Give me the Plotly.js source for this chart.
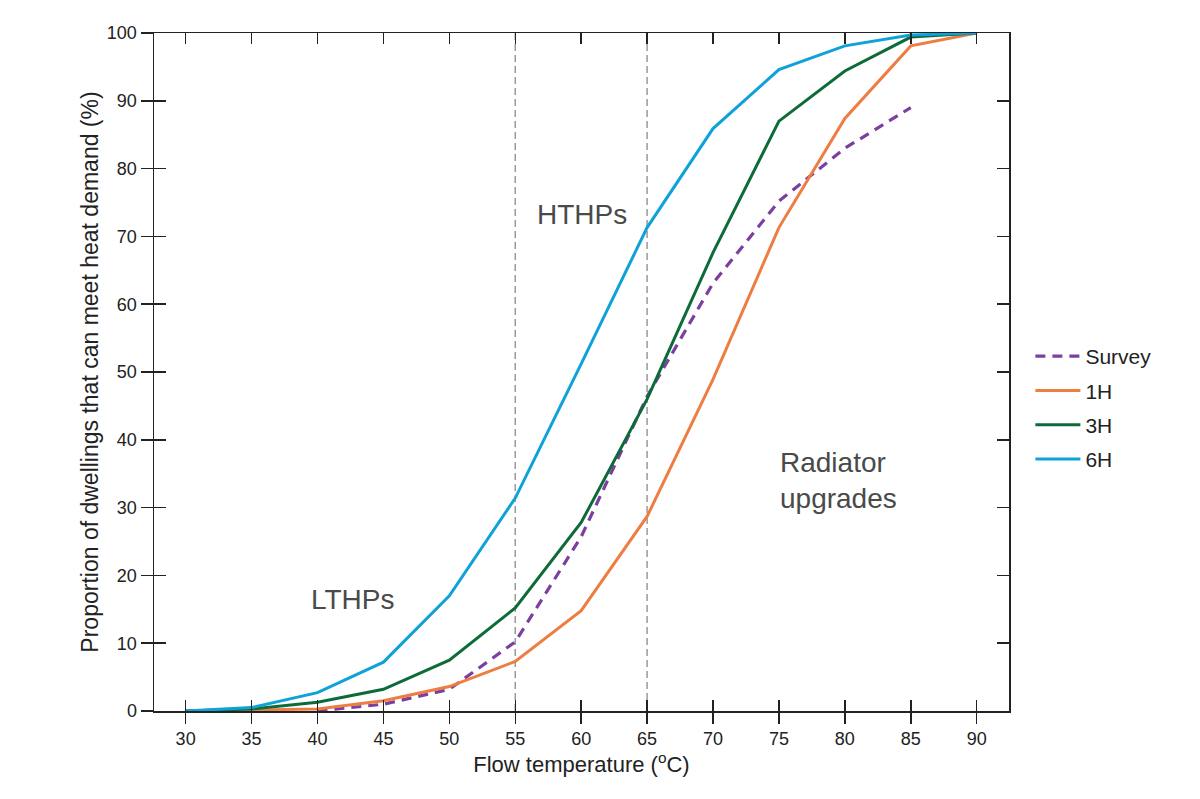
<!DOCTYPE html>
<html>
<head>
<meta charset="utf-8">
<script src="https://cdn.plot.ly/plotly-3.0.1.min.js"></script>
<style>
  body { margin: 0; background: #fff; }
  #chart { width: 1200px; height: 799px; }
</style>
</head>
<body>
<div id="chart"></div>
<script>
// températures de départ (°C)
const temps = [30, 35, 40, 45, 50, 55, 60, 65, 70, 75, 80, 85, 90];
const tempsSurvey = [40, 45, 50, 55, 60, 65, 70, 75, 80, 85];

// proportion de logements (%)
const survey = [0.0, 1.0, 3.2, 10.2, 25.7, 46.4, 63.1, 75.2, 83.0, 89.0];
const h1 = [0.0, 0.1, 0.3, 1.5, 3.6, 7.3, 14.8, 28.7, 48.9, 71.3, 87.4, 98.1, 100];
const h3 = [0.0, 0.3, 1.3, 3.2, 7.5, 15.2, 27.8, 46.0, 67.6, 87.0, 94.4, 99.4, 100];
const h6 = [0.0, 0.5, 2.7, 7.2, 17.0, 31.4, 51.2, 71.3, 85.9, 94.6, 98.1, 99.7, 100];

const xTicks = [30, 35, 40, 45, 50, 55, 60, 65, 70, 75, 80, 85, 90];
const limites = [55, 65];

const police = 'Liberation Sans, Arial, sans-serif';
const lw = 3;

var data = [
    {x: tempsSurvey, y: survey, mode: 'lines', name: 'Survey', legendgroup: 'a',
     line: {color: '#7B3FA0', width: 3.2, dash: '10px,7px'}},
    {x: temps, y: h1, mode: 'lines', name: '1H', legendgroup: 'b',
     line: {color: '#EE7D42', width: lw}},
    {x: temps, y: h3, mode: 'lines', name: '3H', legendgroup: 'c',
     line: {color: '#0C6B38', width: lw}},
    {x: temps, y: h6, mode: 'lines', name: '6H', legendgroup: 'd',
     line: {color: '#0EA2D8', width: lw}},
];

var shapes = limites.map(t => ({
    type: 'line', xref: 'x', yref: 'y',
    x0: t, x1: t, y0: 0, y1: 100,
    line: {color: '#9a9a9a', width: 1.5, dash: '7px,4px'},
    layer: 'below',
}));

const xRange = [27.6, 92.45];

var layout = {
    width: 1200, height: 799,
    paper_bgcolor: '#fff', plot_bgcolor: '#fff',
    margin: {l: 154, r: 191, t: 33, b: 88, pad: 0},
    font: {family: police, color: '#222', size: 18},
    showlegend: true,
    legend: {
        x: 1.025, xanchor: 'left', y: 0.447, yanchor: 'middle',
        font: {size: 21, color: '#222'},
        tracegroupgap: 4,
        itemwidth: 45,
        bgcolor: 'rgba(0,0,0,0)',
    },
    xaxis: {
        range: xRange, tickvals: xTicks,
        ticks: 'outside', ticklen: 11, tickwidth: 1.5, tickcolor: '#222',
        showline: true, linecolor: '#222', linewidth: 1.5, mirror: true,
        showgrid: false, zeroline: false,
        tickfont: {size: 18},
        title: {text: 'Flow temperature (<sup>o</sup>C)', font: {size: 22}, standoff: 5},
    },
    xaxis2: {
        range: xRange, tickvals: xTicks, overlaying: 'x', anchor: 'y',
        ticks: 'inside', ticklen: 11, tickwidth: 1.5, tickcolor: '#222',
        mirror: 'ticks', showline: false, showticklabels: false,
        showgrid: false, zeroline: false,
    },
    yaxis: {
        range: [0, 100], dtick: 10,
        ticks: 'outside', ticklen: 12, tickwidth: 1.5, tickcolor: '#222',
        showline: true, linecolor: '#222', linewidth: 1.5, mirror: true,
        showgrid: false, zeroline: false,
        tickfont: {size: 18},
        title: {text: 'Proportion of dwellings that can meet heat demand (%)', font: {size: 23}, standoff: 2},
    },
    yaxis2: {
        range: [0, 100], dtick: 10, overlaying: 'y', anchor: 'x',
        ticks: 'inside', ticklen: 12, tickwidth: 1.5, tickcolor: '#222',
        mirror: 'ticks', showline: false, showticklabels: false,
        showgrid: false, zeroline: false,
    },
    shapes: shapes,
    annotations: [
        {x: 42.7, y: 16.4, text: 'LTHPs', showarrow: false,
         font: {size: 28, color: '#4a4a4a'}},
        {x: 60.1, y: 73.2, text: 'HTHPs', showarrow: false,
         font: {size: 28, color: '#4a4a4a'}},
        {x: 74.9, y: 34, text: 'Radiator<br>upgrades', showarrow: false,
         xanchor: 'left', align: 'left',
         font: {size: 28, color: '#4a4a4a'}},
    ],
};

// axe fantôme pour les graduations intérieures
data.push({x: [30], y: [0], xaxis: 'x2', yaxis: 'y2', mode: 'markers',
    marker: {opacity: 0}, showlegend: false, hoverinfo: 'skip'});

Plotly.newPlot('chart', data, layout, {staticPlot: true});
</script>
</body>
</html>
